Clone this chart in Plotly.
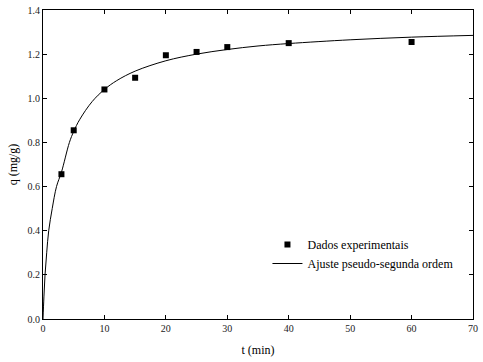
import plotly.graph_objects as go

# Experimental data
t_exp = [3, 5, 10, 15, 20, 25, 30, 40, 60]
q_exp = [0.656, 0.855, 1.04, 1.093, 1.195, 1.21, 1.232, 1.25, 1.255]

# Fitted pseudo-second-order curve
t_fit = [0, 0.15, 0.33, 0.6, 0.93, 1.5, 2.2, 3, 4.3, 5, 6, 8, 10, 12, 15, 20, 25, 30, 35, 40, 50, 60, 70]
q_fit = [0, 0.1, 0.2, 0.3, 0.4, 0.5, 0.6, 0.665, 0.8, 0.85, 0.905, 0.985, 1.04, 1.08, 1.123, 1.17, 1.2, 1.221, 1.237, 1.248, 1.265, 1.277, 1.285]

x_ticks = [0, 10, 20, 30, 40, 50, 60, 70]
y_ticks = [0.0, 0.2, 0.4, 0.6, 0.8, 1.0, 1.2, 1.4]

font_family = "Liberation Serif, Times New Roman, DejaVu Serif, serif"

fig = go.Figure()
fig.add_trace(go.Scatter(
    x=t_exp, y=q_exp, mode="markers", name="Dados experimentais",
    marker=dict(symbol="square", size=6, color="black"),
))
fig.add_trace(go.Scatter(
    x=t_fit, y=q_fit, mode="lines", name="Ajuste pseudo-segunda ordem",
    line=dict(color="black", width=1, shape="spline"),
))

axis_common = dict(
    showgrid=False, zeroline=False, showline=True, linecolor="black", linewidth=1,
    mirror="ticks", ticks="inside", ticklen=4, tickcolor="black", automargin=False,
    tickfont=dict(family=font_family, size=10, color="#222"),
)

fig.update_layout(
    width=483, height=362,
    margin=dict(l=43, r=10, t=10, b=43),
    paper_bgcolor="white", plot_bgcolor="white",
    font=dict(family=font_family, color="black"),
    showlegend=True,
    legend=dict(
        x=0.522, y=0.288, xanchor="left", yanchor="top",
        bgcolor="rgba(0,0,0,0)", borderwidth=0,
        font=dict(family=font_family, size=12, color="black"),
        tracegroupgap=0, itemwidth=30,
    ),
    xaxis=dict(
        range=[0, 70], tickvals=x_ticks, ticktext=[str(v) for v in x_ticks],
        title=dict(text="t (min)", font=dict(family=font_family, size=12), standoff=12),
        **axis_common,
    ),
    yaxis=dict(
        range=[0, 1.4], tickvals=y_ticks, ticktext=[f"{v:.1f}" for v in y_ticks],
        title=dict(text="q (mg/g)", font=dict(family=font_family, size=12), standoff=7),
        **axis_common,
    ),
)

fig.write_html("out.html")
